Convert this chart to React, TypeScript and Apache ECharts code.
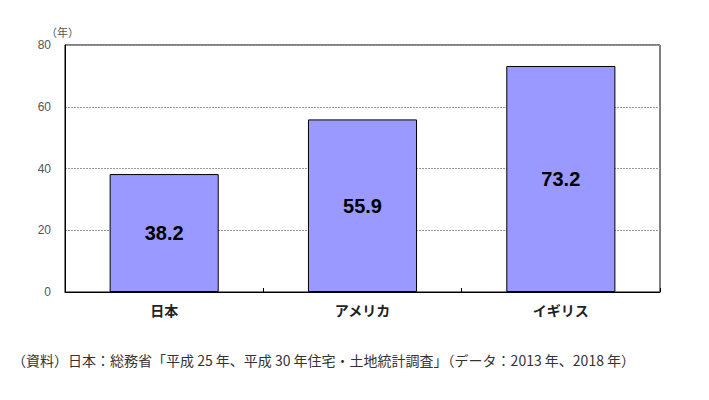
import React, { useEffect, useRef } from "react";
import * as echarts from "echarts";

const categories = ["日本", "アメリカ", "イギリス"];
const values = [38.2, 55.9, 73.2];
const yTicks = [0, 20, 40, 60, 80];
const unitLabel = "（年）";
const note = "（資料）日本：総務省「平成 25 年、平成 30 年住宅・土地統計調査」（データ：2013 年、2018 年）";

export default function App() {
  const ref = useRef<HTMLDivElement>(null);
  useEffect(() => {
    if (!ref.current) return;
    const chart = echarts.init(ref.current, undefined, { renderer: "svg" });
    chart.setOption({
      animation: false,
      backgroundColor: "#ffffff",
      grid: {
        left: 65,
        top: 45,
        width: 595,
        height: 247,
        show: true,
        borderColor: "#000000",
        borderWidth: 1,
        backgroundColor: "transparent",
      },
      xAxis: {
        type: "category",
        data: categories,
        axisLine: { show: true, lineStyle: { color: "#000", width: 1 } },
        axisTick: { show: true, inside: true, length: 4, lineStyle: { color: "#000" } },
        axisLabel: {
          color: "#222",
          fontSize: 14,
          fontWeight: "bold",
          fontFamily: "Noto Sans CJK JP",
          margin: 11,
        },
      },
      yAxis: {
        type: "value",
        min: yTicks[0],
        max: yTicks[yTicks.length - 1],
        interval: 20,
        axisLine: { show: true, lineStyle: { color: "#000" } },
        axisTick: { show: false },
        axisLabel: {
          color: "#555",
          fontSize: 12,
          fontFamily: "Liberation Sans, Arial",
          margin: 14,
        },
        splitLine: { show: true, lineStyle: { color: "#999", type: [2, 1], width: 1 } },
      },
      series: [
        {
          type: "bar",
          data: values,
          barWidth: "55%",
          itemStyle: { color: "#9999ff", borderColor: "#000", borderWidth: 1 },
          label: {
            show: true,
            position: "inside",
            color: "#000",
            fontSize: 20,
            fontWeight: "bold",
            fontFamily: "Liberation Sans, Arial",
            formatter: (p: any) => p.value.toFixed(1),
          },
        },
      ],
      graphic: [
        {
          type: "text",
          left: 46,
          top: 26,
          style: { text: unitLabel, fontSize: 11, fill: "#555", fontFamily: "Noto Sans CJK JP" },
        },
        {
          type: "text",
          left: 12,
          top: 353,
          style: { text: note, fontSize: 14, fill: "#333", fontFamily: "Noto Sans CJK JP" },
        },
      ],
    });
    return () => chart.dispose();
  }, []);
  return (
    <div
      ref={ref}
      style={{ position: "fixed", left: 0, top: 0, width: 709, height: 400 }}
    />
  );
}
